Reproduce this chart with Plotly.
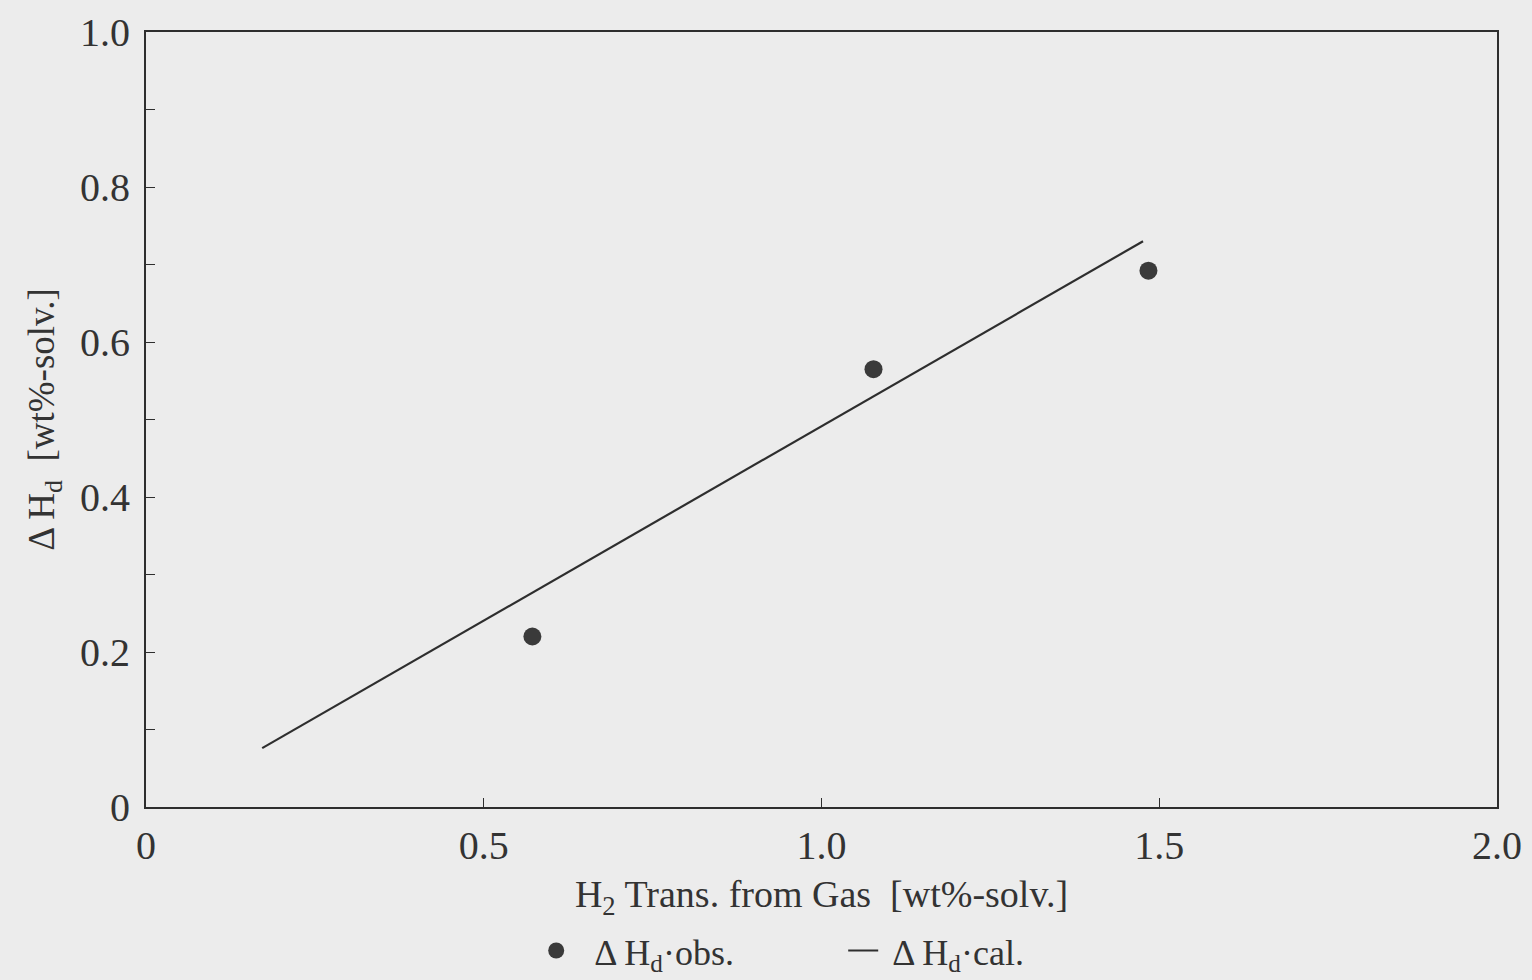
import plotly.graph_objects as go

# Observed hydrogen uptake points
h2_trans_obs = [0.572, 1.077, 1.484]
dh_obs = [0.220, 0.565, 0.692]

# Calculated fit line (end points)
h2_trans_cal = [0.172, 1.476]
dh_cal = [0.076, 0.730]

x_ticks = [0, 0.5, 1.0, 1.5, 2.0]
x_tick_text = ["0", "0.5", "1.0", "1.5", "2.0"]
y_ticks = [0, 0.2, 0.4, 0.6, 0.8, 1.0]
y_tick_text = ["0", "0.2", "0.4", "0.6", "0.8", "1.0"]

bg = "#ececec"
ink = "#2e2e2e"
font_family = "Liberation Serif, Times New Roman, serif"

fig = go.Figure()
fig.add_trace(go.Scatter(
    x=h2_trans_obs, y=dh_obs, mode="markers",
    marker=dict(size=18, color="#3a3a3a", line=dict(width=0)),
    name="\u00a0\u00a0Δ H<sub>d</sub>·obs.",
))
fig.add_trace(go.Scatter(
    x=h2_trans_cal, y=dh_cal, mode="lines",
    line=dict(color=ink, width=2.2),
    name="\u00a0Δ H<sub>d</sub>·cal.",
))

axis_common = dict(
    showgrid=False, zeroline=False, showline=True, linecolor=ink, linewidth=2,
    mirror=True, ticks="inside", ticklen=9, tickwidth=1.2, tickcolor=ink,
    tickfont=dict(family=font_family, size=40, color="#333"),
    automargin=False,
)

fig.update_layout(
    width=1532, height=980,
    paper_bgcolor=bg, plot_bgcolor=bg,
    margin=dict(l=146, r=35, t=32, b=173, autoexpand=False),
    font=dict(family=font_family, color="#333"),
    xaxis=dict(
        range=[0, 2.0], tickvals=x_ticks, ticktext=x_tick_text, ticklabelstandoff=2,
        title=dict(text="H<sub>2</sub> Trans. from Gas  [wt%-solv.]",
                   font=dict(family=font_family, size=38, color="#333"), standoff=14),
        **axis_common,
    ),
    yaxis=dict(
        range=[0, 1.0], tickvals=y_ticks, ticktext=y_tick_text, ticklabelstandoff=6,
        minor=dict(dtick=0.1, ticks="inside", ticklen=9, tickwidth=1.2, tickcolor=ink),
        title=dict(text="Δ H<sub>d</sub>  [wt%-solv.]",
                   font=dict(family=font_family, size=37, color="#333"), standoff=14),
        **axis_common,
    ),
    showlegend=True,
    legend=dict(
        orientation="h", xref="container", x=0.350, xanchor="left",
        yref="container", y=0.030, yanchor="middle",
        bgcolor="rgba(0,0,0,0)", font=dict(family=font_family, size=36, color="#333"),
        itemwidth=30, entrywidth=262,
    ),
)

fig.write_html("out.html")
